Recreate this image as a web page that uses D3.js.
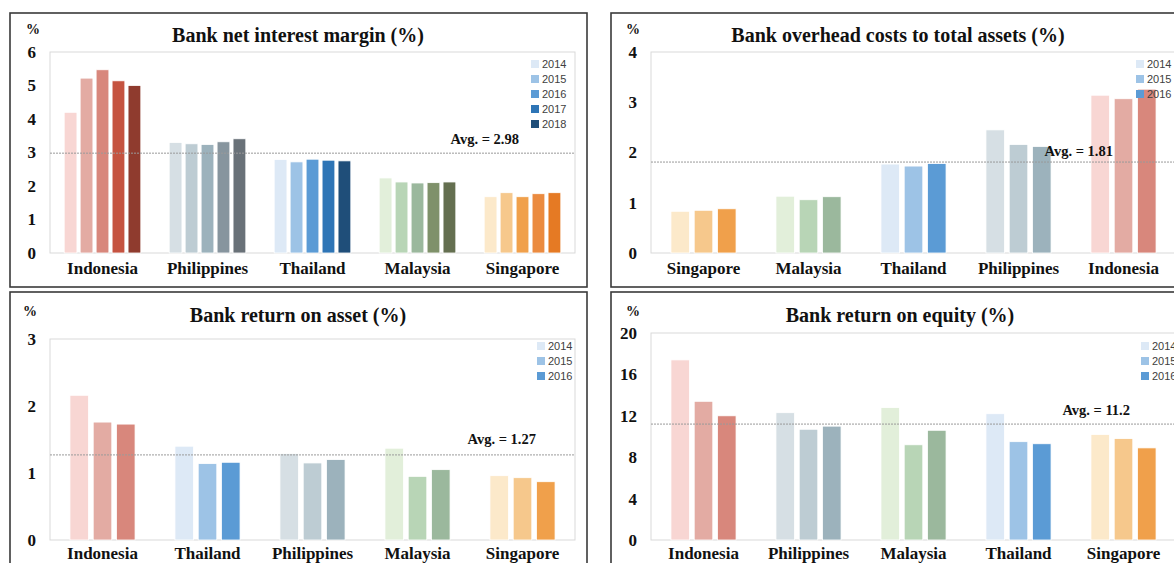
<!DOCTYPE html>
<html>
<head>
<meta charset="utf-8">
<script src="https://cdn.jsdelivr.net/npm/d3@7"></script>
<style>
  html, body { margin: 0; padding: 0; background: #fff; }
  svg { display: block; }
</style>
</head>
<body>
<svg id="chart" width="1174" height="563"></svg>
<script>
// ---------- DATA ----------
const years5 = ["2014", "2015", "2016", "2017", "2018"];
const years3 = ["2014", "2015", "2016"];

// Panel 1: Bank net interest margin (%)
const nimTitle = "Bank net interest margin (%)";
const nimCategories = ["Indonesia", "Philippines", "Thailand", "Malaysia", "Singapore"];
const nimValues = [
  [4.20, 5.22, 5.47, 5.14, 5.00],
  [3.30, 3.26, 3.24, 3.32, 3.41],
  [2.79, 2.72, 2.80, 2.77, 2.75],
  [2.24, 2.12, 2.09, 2.10, 2.12],
  [1.68, 1.80, 1.68, 1.77, 1.80]
];
const nimAvg = 2.98;
const nimTicks = [0, 1, 2, 3, 4, 5, 6];

// Panel 2: Bank overhead costs to total assets (%)
const ovhTitle = "Bank overhead costs to total assets (%)";
const ovhCategories = ["Singapore", "Malaysia", "Thailand", "Philippines", "Indonesia"];
const ovhValues = [
  [0.83, 0.85, 0.88],
  [1.13, 1.06, 1.12],
  [1.77, 1.73, 1.78],
  [2.45, 2.16, 2.12],
  [3.14, 3.07, 3.26]
];
const ovhAvg = 1.81;
const ovhTicks = [0, 1, 2, 3, 4];

// Panel 3: Bank return on asset (%)
const roaTitle = "Bank return on asset (%)";
const roaCategories = ["Indonesia", "Thailand", "Philippines", "Malaysia", "Singapore"];
const roaValues = [
  [2.16, 1.76, 1.73],
  [1.40, 1.14, 1.16],
  [1.29, 1.15, 1.20],
  [1.37, 0.95, 1.05],
  [0.96, 0.93, 0.87]
];
const roaAvg = 1.27;
const roaTicks = [0, 1, 2, 3];

// Panel 4: Bank return on equity (%)
const roeTitle = "Bank return on equity (%)";
const roeCategories = ["Indonesia", "Philippines", "Malaysia", "Thailand", "Singapore"];
const roeValues = [
  [17.4, 13.4, 12.0],
  [12.3, 10.7, 11.0],
  [12.8, 9.2, 10.6],
  [12.2, 9.5, 9.3],
  [10.2, 9.8, 8.9]
];
const roeAvg = 11.2;
const roeTicks = [0, 4, 8, 12, 16, 20];

// colour shades per country (light -> dark)
const countryShades = {
  Indonesia:   ["#F8D6D3", "#E3ABA3", "#D8877C", "#C55340", "#8F3B2E"],
  Philippines: ["#D6DFE4", "#BDCCD3", "#9CB2BC", "#87959E", "#697178"],
  Thailand:    ["#DDE9F6", "#9DC3E6", "#5B9BD5", "#2E75B6", "#1F4E79"],
  Malaysia:    ["#E2EFDA", "#B8D5B6", "#9BB89D", "#7F916A", "#646F50"],
  Singapore:   ["#FCE9CA", "#F6C88C", "#F0A04B", "#EB8B40", "#E57A24"]
};
const legendShades = countryShades.Thailand;

// ---------- DRAW ----------
const svg = d3.select("#chart");
const serif = "'Liberation Serif', 'Times New Roman', serif";
const sans = "'Liberation Sans', Arial, sans-serif";

function drawPanel(cfg) {
  const g = svg.append("g");
  // outer box
  g.append("rect")
    .attr("x", cfg.box[0]).attr("y", cfg.box[1])
    .attr("width", cfg.box[2] - cfg.box[0]).attr("height", cfg.box[3] - cfg.box[1])
    .attr("fill", "#fff").attr("stroke", "#3a3a3a").attr("stroke-width", 1.6);

  const [pl, pt, pr, pb] = cfg.plot;
  const x = d3.scaleBand().domain(cfg.categories).range([pl, pr])
    .paddingInner(1 - cfg.groupFrac).paddingOuter((1 - cfg.groupFrac) / 2);
  const xi = d3.scaleBand().domain(cfg.years).range([0, x.bandwidth()]).paddingInner(0.2);
  const y = d3.scaleLinear().domain([0, cfg.ticks[cfg.ticks.length - 1]]).range([pb, pt]);

  // plot area frame
  g.append("rect")
    .attr("x", pl).attr("y", pt).attr("width", pr - pl).attr("height", pb - pt)
    .attr("fill", "none").attr("stroke", "#d9d9d9").attr("stroke-width", 1);

  // bars
  cfg.categories.forEach((c, ci) => {
    const grp = g.append("g").attr("transform", `translate(${x(c)},0)`);
    grp.selectAll("rect").data(cfg.values[ci]).join("rect")
      .attr("x", (d, i) => xi(cfg.years[i]))
      .attr("y", d => y(d))
      .attr("width", xi.bandwidth())
      .attr("height", d => y(0) - y(d))
      .attr("fill", (d, i) => countryShades[c][i])
      .attr("stroke", "#fff").attr("stroke-width", 0.8);
  });

  // y axis (labels only)
  const yAxis = d3.axisLeft(y).tickValues(cfg.ticks).tickSize(0).tickPadding(14).tickFormat(d3.format("d"));
  const ya = g.append("g").attr("transform", `translate(${pl},0)`).call(yAxis);
  ya.select(".domain").remove();
  ya.selectAll("text").attr("font-family", serif).attr("font-weight", "bold")
    .attr("font-size", 17).attr("fill", "#111");

  // x axis (labels only)
  const xAxis = d3.axisBottom(x).tickSize(0).tickPadding(cfg.xPad);
  const xa = g.append("g").attr("transform", `translate(0,${pb})`).call(xAxis);
  xa.select(".domain").remove();
  xa.selectAll("text").attr("font-family", serif).attr("font-weight", "bold")
    .attr("font-size", 17).attr("fill", "#111");

  // average line
  g.append("line")
    .attr("x1", pl).attr("x2", pr).attr("y1", y(cfg.avg)).attr("y2", y(cfg.avg))
    .attr("stroke", "#9a9a9a").attr("stroke-width", 1).attr("stroke-dasharray", "2,1");
  g.append("text")
    .attr("x", pr - cfg.avgLabelOffset[0]).attr("y", y(cfg.avg) - cfg.avgLabelOffset[1])
    .attr("text-anchor", "end")
    .attr("font-family", serif).attr("font-weight", "bold").attr("font-size", 14.5).attr("fill", "#111")
    .text(`Avg. = ${cfg.avg}`);

  // title
  g.append("text")
    .attr("x", cfg.titlePos[0]).attr("y", cfg.titlePos[1])
    .attr("text-anchor", "middle")
    .attr("font-family", serif).attr("font-weight", "bold").attr("font-size", 20).attr("fill", "#111")
    .text(cfg.title);

  // % unit
  g.append("text")
    .attr("x", cfg.unitPos[0]).attr("y", cfg.unitPos[1])
    .attr("text-anchor", "middle")
    .attr("font-family", serif).attr("font-weight", "bold").attr("font-size", 14).attr("fill", "#111")
    .text("%");

  // legend
  const lg = g.append("g").attr("transform", `translate(${cfg.legendPos[0]},${cfg.legendPos[1]})`);
  cfg.years.forEach((yr, i) => {
    lg.append("rect").attr("x", 0).attr("y", i * 15 - 4).attr("width", 8).attr("height", 8)
      .attr("fill", legendShades[i]);
    lg.append("text").attr("x", 11).attr("y", i * 15 + 4)
      .attr("font-family", sans).attr("font-size", 11).attr("fill", "#404040")
      .text(yr);
  });
}

drawPanel({
  title: nimTitle, categories: nimCategories, values: nimValues, years: years5,
  avg: nimAvg, ticks: nimTicks, xPad: 9,
  box: [10, 13, 587, 287], plot: [50, 52, 575, 253], groupFrac: 0.73,
  titlePos: [298, 42], unitPos: [33, 34], legendPos: [531, 64], avgLabelOffset: [56, 9]
});
drawPanel({
  title: ovhTitle, categories: ovhCategories, values: ovhValues, years: years3,
  avg: ovhAvg, ticks: ovhTicks, xPad: 9,
  box: [611, 13, 1188, 287], plot: [651, 52, 1176, 253], groupFrac: 0.62,
  titlePos: [898, 42], unitPos: [633, 34], legendPos: [1136, 64], avgLabelOffset: [63, 6]
});
drawPanel({
  title: roaTitle, categories: roaCategories, values: roaValues, years: years3,
  avg: roaAvg, ticks: roaTicks, xPad: 7,
  box: [10, 292, 587, 600], plot: [50, 339, 575, 540], groupFrac: 0.62,
  titlePos: [298, 322], unitPos: [30, 316], legendPos: [537, 346], avgLabelOffset: [39, 11]
});
drawPanel({
  title: roeTitle, categories: roeCategories, values: roeValues, years: years3,
  avg: roeAvg, ticks: roeTicks, xPad: 7,
  box: [611, 292, 1188, 600], plot: [651, 333, 1176, 540], groupFrac: 0.62,
  titlePos: [900, 322], unitPos: [633, 316], legendPos: [1141, 346], avgLabelOffset: [46, 9]
});
</script>
</body>
</html>
